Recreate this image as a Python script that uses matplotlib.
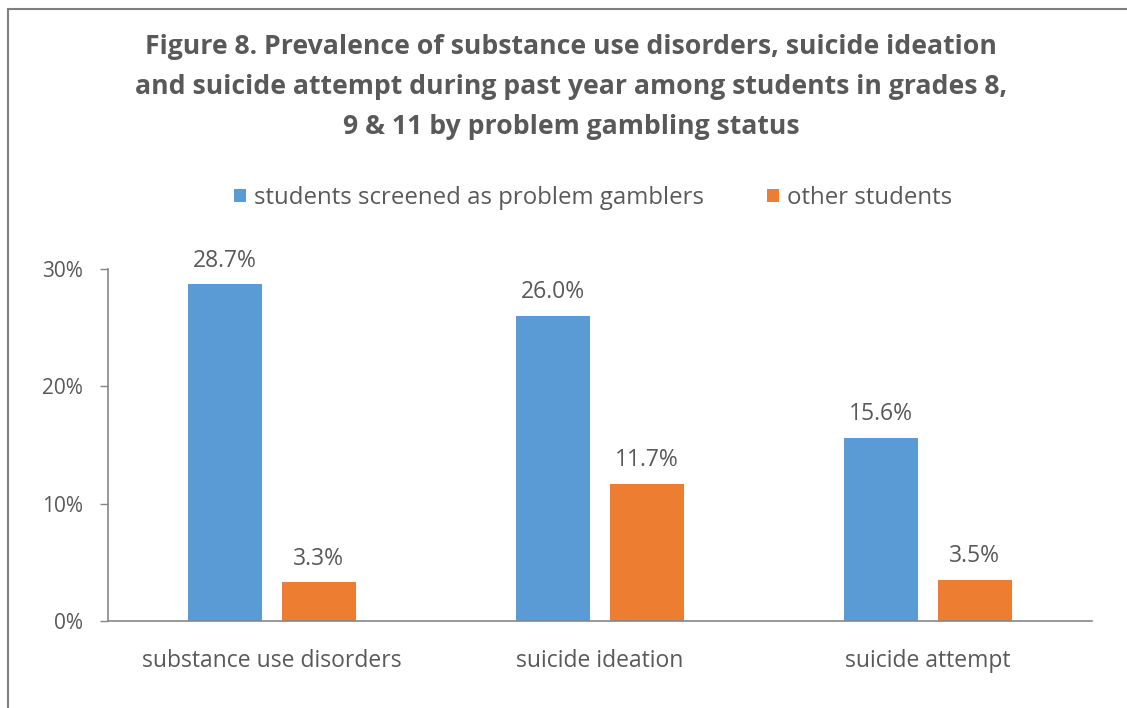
import numpy as np
import matplotlib
matplotlib.use("Agg")
import matplotlib.pyplot as plt
from matplotlib.patches import Rectangle

categories = ["substance use disorders", "suicide ideation", "suicide attempt"]
gamblers = [28.7, 26.0, 15.6]
others = [3.3, 11.7, 3.5]
series_names = ["students screened as problem gamblers", "other students"]
y_ticks = [0, 10, 20, 30]
y_tick_labels = ["0%", "10%", "20%", "30%"]
title = ("Figure 8. Prevalence of substance use disorders, suicide ideation\n"
         "and suicide attempt during past year among students in grades 8,\n"
         "9 & 11 by problem gambling status")

BLUE = "#5B9BD5"
ORANGE = "#ED7D31"
TEXT = "#595959"
AXIS = "#868686"

plt.rcParams["font.family"] = ["Open Sans", "DejaVu Sans"]

W, H = 1127, 708
fig = plt.figure(figsize=(W / 100, H / 100), dpi=100)

# axes placed in pixel terms of the reference
left, right, bottom, top = 108, 1092, 621, 269
ax = fig.add_axes([left / W, 1 - bottom / H, (right - left) / W, (bottom - top) / H])

x = np.arange(len(categories))
bw = 0.226
off = 0.143
b1 = ax.bar(x - off, gamblers, bw, color=BLUE, label=series_names[0])
b2 = ax.bar(x + off, others, bw, color=ORANGE, label=series_names[1])

for bars, vals in ((b1, gamblers), (b2, others)):
    for b, v in zip(bars, vals):
        ax.annotate(f"{v:.1f}%", (b.get_x() + b.get_width() / 2, v),
                    xytext=(0, 17), textcoords="offset points",
                    ha="center", va="center", fontsize=16.5, color=TEXT)

ax.set_xlim(-0.5, len(categories) - 0.5)
ax.set_ylim(0, 30)
ax.set_yticks(y_ticks)
ax.set_yticklabels(y_tick_labels)
ax.set_xticks(x)
ax.set_xticklabels(categories)
ax.tick_params(axis="x", length=0, pad=20, labelsize=16.5, labelcolor=TEXT)
ax.tick_params(axis="y", length=6, width=1, color=AXIS, pad=12,
               labelsize=15, labelcolor=TEXT)
for s in ("top", "right"):
    ax.spines[s].set_visible(False)
for s in ("left", "bottom"):
    ax.spines[s].set_color(AXIS)
    ax.spines[s].set_linewidth(1.2)

fig.text(571 / W, 1 - 87 / H, title, ha="center", va="center",
         fontsize=19.2, fontweight="bold", color=TEXT, linespacing=1.68)

fig.legend(handles=[b1, b2], labels=series_names, loc="center",
           bbox_to_anchor=(593 / W, 1 - 198 / H), ncol=2, frameon=False,
           fontsize=17.3, handlelength=0.5, handleheight=0.5,
           handletextpad=0.35, columnspacing=2.6, labelcolor=TEXT)

# chart frame (only left and top edges fall inside the image)
fig.patches.append(Rectangle((8 / W, -0.1), 1.2, (H - 9) / H + 0.1,
                             transform=fig.transFigure, fill=False,
                             edgecolor="#7F7F7F", linewidth=1.5))

fig.savefig("out.png", dpi=100, facecolor="white")
